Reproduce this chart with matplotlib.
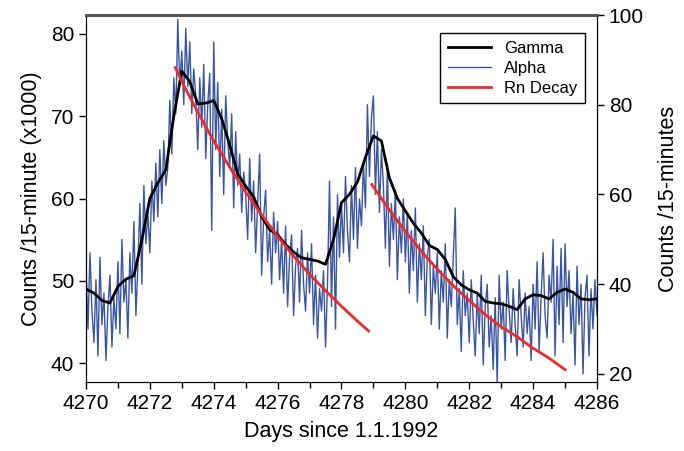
import numpy as np
import matplotlib.pyplot as plt
from matplotlib.ticker import MultipleLocator

plt.rcParams['font.family'] = ['Liberation Sans', 'DejaVu Sans']

# gamma counts /15-minute (x1000), every 0.25 day from 4270
gamma_days = np.arange(4270, 4286.01, 0.25)
gamma = [49.0, 48.5, 47.6, 47.3, 49.3, 50.2, 50.6, 55.0, 60.0, 61.9, 63.5, 70.0,
         75.5, 74.2, 71.5, 71.6, 71.9, 69.7, 66.5, 63.0, 61.5, 60.2, 57.8, 56.2,
         55.6, 54.4, 53.5, 52.8, 52.6, 52.4, 52.0, 55.0, 59.5, 60.5, 62.0, 65.0,
         67.6, 67.0, 62.5, 60.0, 58.5, 57.0, 55.8, 54.3, 53.8, 52.6, 50.5, 49.5,
         48.9, 48.5, 47.5, 47.3, 47.2, 46.9, 46.5, 47.8, 48.3, 48.2, 47.8, 48.6,
         49.0, 48.6, 47.8, 47.7, 47.8]

# alpha counts /15-minutes, 16 readings per day from 4270
alpha_days = 4270 + np.arange(257) / 16
alpha = [
    44, 30, 47, 34, 27, 41, 24, 46, 31, 38, 23, 35, 42, 26, 37, 30,
    45, 29, 50, 36, 41, 28, 47, 38, 54, 33, 44, 58, 40, 62, 49, 56,
    47, 63, 54, 67, 55, 70, 58, 72, 62, 66, 81, 69, 86, 78, 99, 84,
    92, 80, 97, 84, 94, 78, 88, 82, 70, 86, 75, 89, 68, 80, 87, 52,
    94, 70, 85, 64, 79, 60, 82, 72, 66, 78, 57, 74, 62, 69, 56, 65,
    60, 50, 68, 54, 63, 47, 58, 69, 42, 55, 61, 45, 52, 40, 56, 47,
    54, 41, 50, 38, 53, 35, 46, 51, 33, 44, 48, 36, 52, 40, 34, 47,
    38, 49, 31, 42, 28, 39, 34, 43, 26, 40, 63, 35, 55, 30, 60, 46,
    58, 47, 64, 52, 45, 62, 50, 66, 48, 59, 53, 67, 57, 80, 64, 77,
    82, 60, 74, 56, 70, 62, 48, 66, 44, 58, 50, 61, 41, 55, 47, 59,
    45, 56, 38, 52, 43, 57, 36, 49, 41, 53, 33, 46, 50, 31, 44, 38,
    47, 30, 43, 36, 49, 28, 41, 35, 46, 57, 31, 39, 25, 43, 33, 38,
    27, 41, 32, 24, 38, 29, 42, 22, 35, 40, 26, 33, 21, 37, 18, 42,
    30, 36, 23, 43, 34, 27, 39, 31, 24, 41, 33, 26, 38, 29, 35, 23,
    40, 30, 45, 25, 37, 47, 33, 28, 42, 36, 50, 24, 44, 31, 48, 27,
    49, 35, 43, 29, 38, 22, 44, 31, 40, 20, 37, 42, 24, 39, 30, 41,
    33]

# Rn decay fits (left axis units)
rn1_days = [4272.8, 4273.0, 4273.5, 4274.0, 4274.5, 4275.0, 4275.5, 4276.0,
            4276.5, 4277.0, 4277.5, 4278.0, 4278.5, 4278.85]
rn1 = [75.9, 74.2, 70.5, 67.0, 63.8, 60.8, 58.0, 55.4, 53.0, 50.8, 48.8, 46.9,
       45.1, 43.9]
rn2_days = [4278.95, 4279.5, 4280.0, 4280.5, 4281.0, 4281.5, 4282.0, 4282.5,
            4283.0, 4283.5, 4284.0, 4284.5, 4285.0]
rn2 = [61.7, 58.6, 56.0, 53.6, 51.4, 49.4, 47.6, 45.9, 44.4, 43.2, 41.8, 40.6,
       39.2]

fig = plt.figure(figsize=(6.84, 4.51), dpi=100)
ax1 = fig.add_axes([0.1257, 0.153, 0.7471, 0.8137])
ax2 = ax1.twinx()
ax1.set_zorder(ax2.get_zorder() + 1)
ax1.patch.set_visible(False)

blue = '#3a55a6'
red = '#ee2a2a'

la, = ax2.plot(alpha_days, alpha, color=blue, lw=1.0)
lg, = ax1.plot(gamma_days, gamma, color='black', lw=2.0, solid_joinstyle='round')
ax1.plot(rn1_days, rn1, color=red, lw=2.0)
lr, = ax1.plot(rn2_days, rn2, color=red, lw=2.0)

ax1.set_xlim(4270, 4286)
ax1.set_ylim(37.7, 82.3)
ax2.set_ylim(18.2, 100)
ax1.xaxis.set_major_locator(MultipleLocator(2))
ax1.xaxis.set_minor_locator(MultipleLocator(1))
ax1.set_yticks([40, 50, 60, 70, 80])
ax2.set_yticks([20, 40, 60, 80, 100])

for ax in (ax1, ax2):
    ax.tick_params(which='major', direction='out', length=5, width=1, labelsize=15)
    ax.tick_params(which='minor', direction='out', length=4, width=1)
    ax.spines['top'].set_color('#555555')
    ax.spines['top'].set_linewidth(2)

ax1.set_xlabel('Days since 1.1.1992', fontsize=15.5, labelpad=6)
ax1.set_ylabel('Counts /15-minute (x1000)', fontsize=15.5, labelpad=6)
ax2.set_ylabel('Counts /15-minutes', fontsize=15.5, labelpad=10)

leg = ax1.legend([lg, la, lr], ['Gamma', 'Alpha', 'Rn Decay'],
                 loc='upper right', bbox_to_anchor=(0.9765, 0.951), fontsize=12,
                 borderaxespad=0, fancybox=False, framealpha=1, edgecolor='black',
                 handlelength=2.6, borderpad=0.45, labelspacing=0.3)
leg.get_frame().set_linewidth(1)

fig.savefig('out.png', dpi=100)
